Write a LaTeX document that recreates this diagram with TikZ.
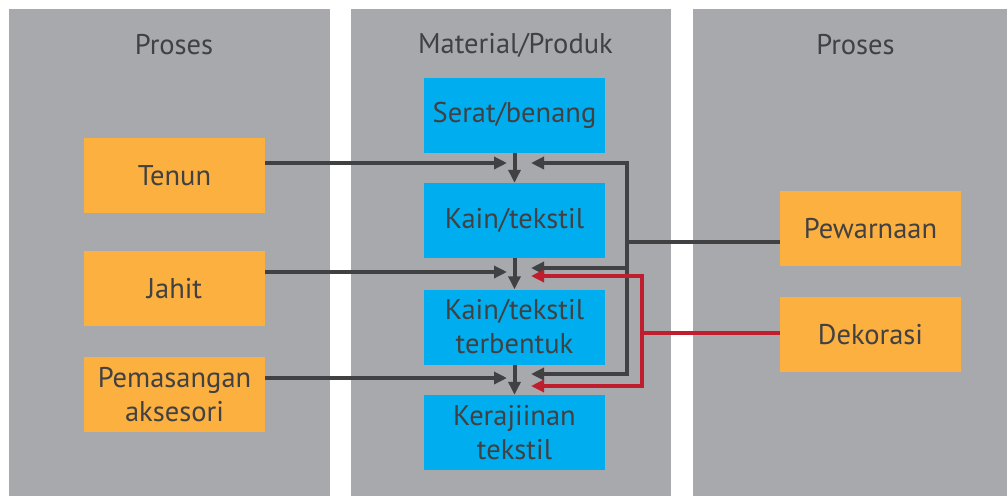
\documentclass[tikz,border=0pt]{standalone}
\usepackage{fontspec}
\setmainfont{PT Sans}
\usetikzlibrary{arrows.meta}
\definecolor{panel}{HTML}{A7A9AC}
\definecolor{dk}{HTML}{414042}
\definecolor{rd}{HTML}{BE1E2D}
\definecolor{bl}{HTML}{00AEEF}
\definecolor{og}{HTML}{FBB040}
\tikzset{
  panelbox/.style={fill=panel,draw=none},
  hdr/.style={text=dk,font=\fontsize{28.5}{34}\selectfont,inner sep=0pt},
  bluebox/.style={fill=bl,draw=none,minimum width=181pt,minimum height=75pt,inner sep=0pt,text=dk,font=\fontsize{28.5}{34}\selectfont,align=center},
  orangebox/.style={fill=og,draw=none,minimum width=181pt,minimum height=75pt,inner sep=0pt,text=dk,font=\fontsize{28.5}{34}\selectfont,align=center},
  tipstyle/.style={-{Triangle[length=13pt,width=12pt]}},
  darkline/.style={draw=dk,line width=4pt},
  redline/.style={draw=rd,line width=4pt},
}
\begin{document}
\begin{tikzpicture}[x=1pt,y=-1pt]
\useasboundingbox (0,0) rectangle (1007,496);
\fill[white] (0,0) rectangle (1007,496);
\path[panelbox] (9,9) rectangle (330,496);
\path[panelbox] (351,9) rectangle (671,496);
\path[panelbox] (693,9) rectangle (1007,496);
\node[hdr] (h1) at (174,45) {Proses};
\node[hdr] (h2) at (515.5,45) {Material/Produk};
\node[hdr] (h3) at (855.5,45) {Proses};
% material boxes
\node[bluebox] (b1) at (514.5,115.5) {Serat/benang};
\node[bluebox] (b2) at (514.5,220.5) {Kain/tekstil};
\node[bluebox] (b3) at (514.5,327) {Kain/tekstil\\terbentuk};
\node[bluebox] (b4) at (514.5,432.5) {Kerajiinan\\tekstil};
% process boxes
\node[orangebox] (tenun) at (174.5,175.5) {Tenun};
\node[orangebox] (jahit) at (174.5,288.5) {Jahit};
\node[orangebox] (pasang) at (174.5,394.5) {Pemasangan\\aksesori};
\node[orangebox] (warna) at (870.5,228.5) {Pewarnaan};
\node[orangebox] (deko) at (870.5,334.5) {Dekorasi};
% coordinates
\coordinate (lt1) at (507,163);
\coordinate (lt2) at (507,272);
\coordinate (lt3) at (507,378);
\coordinate (rt1) at (531,163);
\coordinate (rt2) at (531,268);
\coordinate (rt3) at (531,374);
\coordinate (rr1) at (531,276);
\coordinate (rr2) at (531,386);
\coordinate (dx) at (627,0);
\coordinate (rx) at (642,0);
% vertical arrows
\draw[darkline,tipstyle] (b1.south) -- (b2.north);
\draw[darkline,tipstyle] (b2.south) -- (b3.north);
\draw[darkline,tipstyle] (b3.south) -- (b4.north);
% left arrows
\draw[darkline,tipstyle] (tenun.east |- lt1) -- (lt1);
\draw[darkline,tipstyle] (jahit.east |- lt2) -- (lt2);
\draw[darkline,tipstyle] (pasang.east |- lt3) -- (lt3);
% dark right connectors
\draw[darkline] (warna.west |- 0,242) -- (dx |- 0,242);
\draw[darkline,line join=miter,{Triangle[length=13pt,width=12pt]}-{Triangle[length=13pt,width=12pt]}] (rt1) -- (dx |- rt1) -- (dx |- rt3) -- (rt3);
\draw[darkline,tipstyle] (dx |- rt2) -- (rt2);
% red connectors
\draw[redline,line join=miter,{Triangle[length=13pt,width=12pt]}-{Triangle[length=13pt,width=12pt]}] (rr1) -- (rx |- rr1) -- (rx |- rr2) -- (rr2);
\draw[redline] (deko.west |- 0,333) -- (rx |- 0,333);
\end{tikzpicture}
\end{document}
